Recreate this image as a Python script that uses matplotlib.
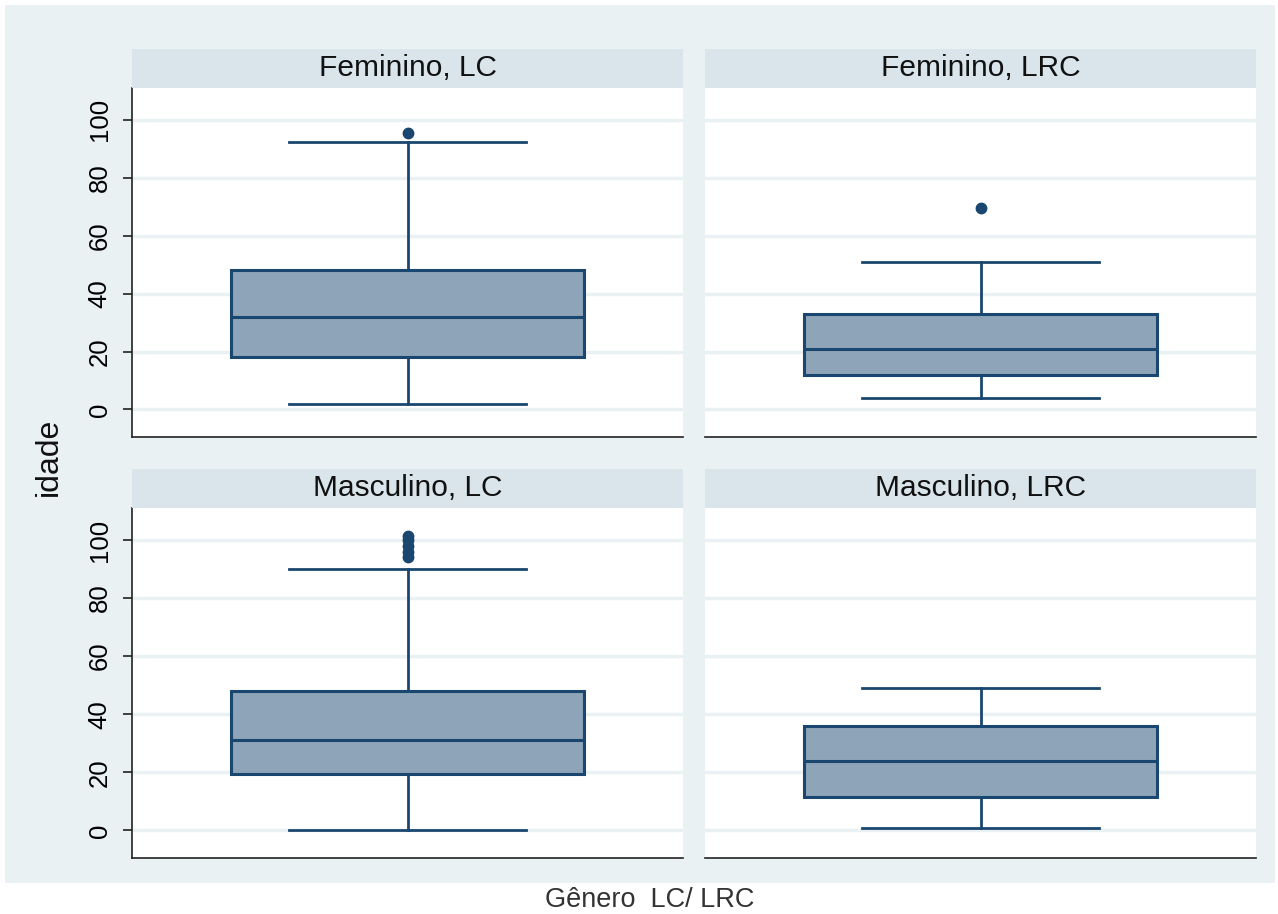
import numpy as np
import matplotlib.pyplot as plt
from matplotlib.patches import Rectangle

plt.rcParams['font.family'] = ['Liberation Sans', 'DejaVu Sans']

# Panel titles and box statistics
panels = ["Feminino, LC", "Feminino, LRC", "Masculino, LC", "Masculino, LRC"]
whislo = [2, 4, 0, 1]
q1 = [18, 12, 19.5, 11.5]
med = [32, 21, 31, 24]
q3 = [48, 33, 48, 36]
whishi = [92.5, 51, 90, 49]
fliers = [[95.5], [69.5], [94, 96, 98, 100, 101.5], []]
yticks = [0, 20, 40, 60, 80, 100]

W, H = 1278, 914
fig = plt.figure(figsize=(W / 100, H / 100), dpi=100)
fig.patch.set_facecolor('white')

# Stata-like graph region
fig.patches.append(Rectangle((5 / W, 1 - 883 / H), 1270 / W, 878 / H,
                             transform=fig.transFigure, facecolor='#eaf1f3',
                             edgecolor='none', zorder=-10))

navy = '#1a476f'
fill = '#8ea4b8'

lefts = [132, 705]
rights = [683, 1256]
tops = [88, 508]
bottoms = [437, 858]
strip_h = 39

for i, title in enumerate(panels):
    r, c = divmod(i, 2)
    l, rt, t, b = lefts[c], rights[c], tops[r], bottoms[r]
    ax = fig.add_axes([l / W, 1 - b / H, (rt - l) / W, (b - t) / H])
    ax.set_facecolor('white')

    stats = [dict(whislo=whislo[i], q1=q1[i], med=med[i], q3=q3[i],
                  whishi=whishi[i], fliers=fliers[i])]
    ax.bxp(stats, positions=[0.5], widths=0.64, capwidths=0.43,
           patch_artist=True,
           boxprops=dict(facecolor=fill, edgecolor=navy, linewidth=2.2),
           medianprops=dict(color=navy, linewidth=2.2),
           whiskerprops=dict(color=navy, linewidth=2),
           capprops=dict(color=navy, linewidth=2),
           flierprops=dict(marker='o', markerfacecolor=navy,
                           markeredgecolor=navy, markersize=7.5))
    ax.set_xlim(0, 1)
    ax.set_ylim(-9.5, 111)
    ax.set_xticks([])
    ax.set_yticks(yticks)
    ax.yaxis.grid(True, color='#eaf1f3', linewidth=2.5)
    ax.set_axisbelow(True)
    for s in ['top', 'right']:
        ax.spines[s].set_visible(False)
    ax.spines['bottom'].set_color('#222222')
    ax.spines['bottom'].set_linewidth(1.2)
    if c == 0:
        ax.spines['left'].set_color('#222222')
        ax.spines['left'].set_linewidth(1.2)
        ax.tick_params(axis='y', length=6.5, width=1.2, color='#222222',
                       labelsize=18.5, labelrotation=90, pad=8)
        for lab in ax.get_yticklabels():
            lab.set_verticalalignment('center')
    else:
        ax.spines['left'].set_visible(False)
        ax.tick_params(axis='y', length=0, labelleft=False)

    # strip with panel title
    sax = fig.add_axes([l / W, 1 - t / H, (rt - l) / W, strip_h / H])
    sax.set_facecolor('#d9e5eb')
    sax.set_xticks([])
    sax.set_yticks([])
    for s in sax.spines.values():
        s.set_visible(False)
    sax.text(0.5, 0.5, title, ha='center', va='center', fontsize=21.5,
             color='#111111', transform=sax.transAxes)

fig.text(49 / W, 1 - 457 / H, 'idade', rotation=90, ha='center', va='center',
         fontsize=23, color='#111111')
fig.text(650 / W, 1 - 900 / H, 'Gênero  LC/ LRC', ha='center', va='center',
         fontsize=19.5, color='#333333')

fig.savefig('out.png', dpi=100)
